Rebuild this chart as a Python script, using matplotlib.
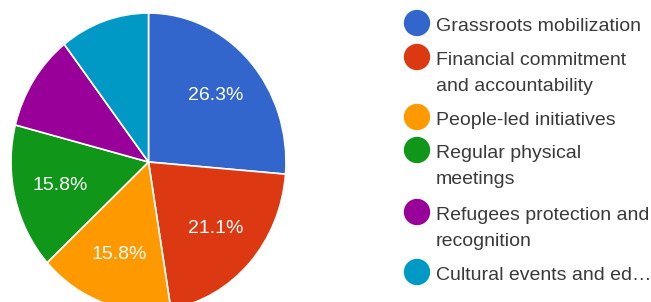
import numpy as np
import matplotlib.pyplot as plt

plt.rcParams['font.family'] = ['Liberation Sans', 'DejaVu Sans']

labels = ['Grassroots mobilization', 'Financial commitment\nand accountability',
          'People-led initiatives', 'Regular physical\nmeetings',
          'Refugees protection and\nrecognition', 'Cultural events and ed\u2026']
values = [26.3, 21.1, 15.8, 15.8, 10.5, 10.5]
colors = ['#3366cc', '#dc3912', '#ff9900', '#109618', '#990099', '#0099c6']

fig = plt.figure(figsize=(6.51, 3.02), dpi=100)
W, H = 651.0, 302.0

# pie area (image is slightly stretched vertically)
ax = fig.add_axes([11/W, (H-311)/H, 275/W, 298/H])
wedges, texts, autotexts = ax.pie(values, colors=colors, startangle=90, counterclock=False,
                                  autopct=lambda p: '%.1f%%' % p if p > 12 else '',
                                  pctdistance=0.66,
                                  wedgeprops=dict(edgecolor='white', linewidth=1.2),
                                  textprops=dict(color='white', fontsize=14))
ax.set_aspect('auto')
ax.set_xlim(-1, 1)
ax.set_ylim(-1, 1)

# legend drawn by hand, in pixel coords
lax = fig.add_axes([0, 0, 1, 1], facecolor='none')
lax.set_xlim(0, W)
lax.set_ylim(H, 0)
lax.axis('off')
rows = [23, 57, 117, 150, 212, 272]
lax.scatter([417]*len(rows), rows, s=360, c=colors, edgecolors='none')
for lab, y in zip(labels, rows):
    for k, line in enumerate(lab.split('\n')):
        lax.text(436, y + 8 + 26*k, line, fontsize=14, color='#3a3a3a',
                 va='baseline', ha='left')

fig.savefig('out.png', dpi=100, facecolor='white')
